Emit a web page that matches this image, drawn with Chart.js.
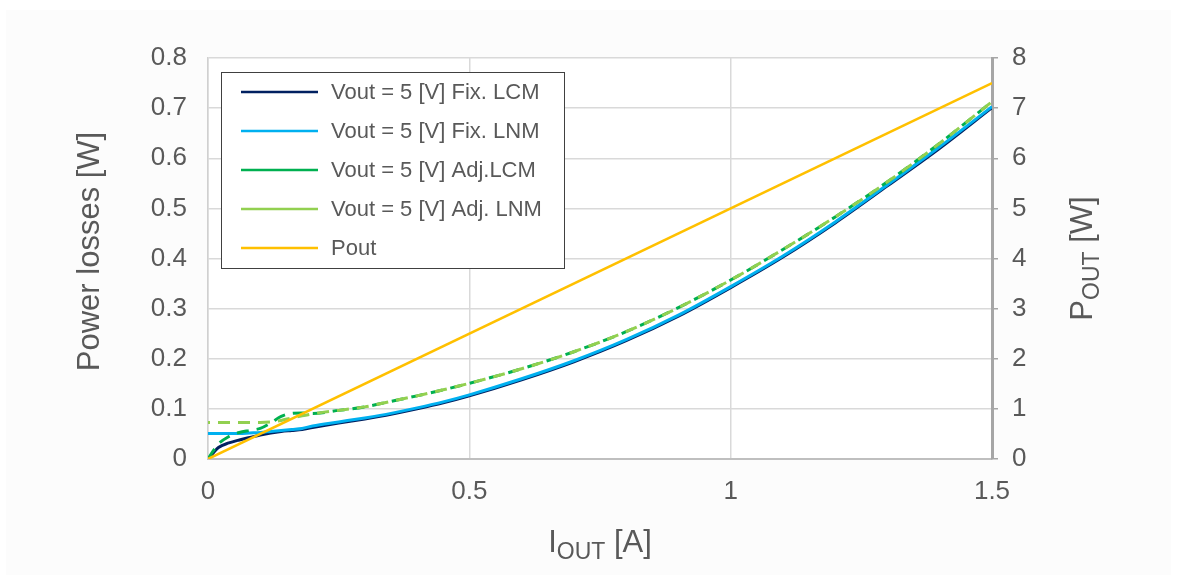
<!DOCTYPE html>
<html>
<head>
<meta charset="utf-8">
<script src="https://cdn.jsdelivr.net/npm/chart.js@4"></script>
<style>
  html, body { margin: 0; padding: 0; background: #ffffff; }
  #wrap { width: 1177px; height: 581px; position: relative; }
</style>
</head>
<body>
<div id="wrap"><canvas id="lossChart" width="1177" height="581"></canvas></div>
<script>
// Output current [A]
const current = [0, 0.01, 0.02, 0.04, 0.06, 0.08, 0.1, 0.12, 0.14, 0.16, 0.18, 0.2,
    0.25, 0.3, 0.35, 0.4, 0.45, 0.5, 0.6, 0.7, 0.8, 0.9, 1.0, 1.1, 1.2, 1.3, 1.4, 1.5];

// Power losses [W]
const fixLcm = [0, 0.012, 0.023, 0.032, 0.038, 0.043, 0.048, 0.052, 0.055, 0.057, 0.059, 0.063,
    0.072, 0.080, 0.089, 0.100, 0.112, 0.126, 0.158, 0.194, 0.236, 0.285, 0.342, 0.403, 0.471, 0.545, 0.620, 0.701];
const fixLnm = [0.051, 0.051, 0.051, 0.051, 0.051, 0.052, 0.053, 0.055, 0.057, 0.059, 0.061, 0.066,
    0.074, 0.082, 0.091, 0.102, 0.114, 0.128, 0.160, 0.196, 0.238, 0.287, 0.344, 0.405, 0.473, 0.547, 0.623, 0.703];
const adjLcm = [0, 0.016, 0.030, 0.045, 0.053, 0.057, 0.061, 0.072, 0.085, 0.091, 0.092, 0.091,
    0.097, 0.104, 0.115, 0.126, 0.138, 0.151, 0.180, 0.214, 0.254, 0.302, 0.357, 0.418, 0.483, 0.553, 0.630, 0.713];
const adjLnm = [0.073, 0.073, 0.073, 0.073, 0.073, 0.073, 0.073, 0.074, 0.077, 0.082, 0.086, 0.090,
    0.097, 0.104, 0.115, 0.126, 0.138, 0.151, 0.180, 0.214, 0.254, 0.302, 0.357, 0.418, 0.483, 0.553, 0.630, 0.713];

// Output power [W], right axis
const poutCurrent = [0, 1.5];
const pout = [0, 7.5];

const seriesNames = ['Vout = 5 [V] Fix. LCM', 'Vout = 5 [V] Fix. LNM', 'Vout = 5 [V] Adj.LCM', 'Vout = 5 [V] Adj. LNM', 'Pout'];
const xTicks = [0, 0.5, 1, 1.5];

const textColor = '#595959';
const fontFamily = '"Liberation Sans", Arial, sans-serif';

function pairs(xs, ys) {
    return xs.map((x, i) => ({ x: x, y: ys[i] }));
}

// Panel background
const backgroundPlugin = {
    id: 'panelBg',
    beforeDraw(chart) {
        const ctx = chart.ctx;
        ctx.save();
        ctx.fillStyle = '#ffffff';
        ctx.fillRect(0, 0, chart.width, chart.height);
        ctx.fillStyle = '#fcfcfc';
        ctx.fillRect(6, 10, chart.width - 12, chart.height - 16);
        const a = chart.chartArea;
        ctx.fillStyle = '#ffffff';
        ctx.fillRect(a.left, a.top, a.right - a.left, a.bottom - a.top);
        ctx.restore();
    }
};

// Axis titles with subscripts
function drawSubText(ctx, parts, cx, cy) {
    let total = 0;
    parts.forEach(p => {
        ctx.font = p.size + 'px ' + fontFamily;
        total += ctx.measureText(p.text).width;
    });
    let x = cx - total / 2;
    parts.forEach(p => {
        ctx.font = p.size + 'px ' + fontFamily;
        ctx.fillText(p.text, x, cy + (p.shift || 0));
        x += ctx.measureText(p.text).width;
    });
}

const titlesPlugin = {
    id: 'axisTitles',
    afterDraw(chart) {
        const ctx = chart.ctx;
        const a = chart.chartArea;
        const midY = (a.top + a.bottom) / 2;
        ctx.save();
        ctx.fillStyle = textColor;
        ctx.textAlign = 'left';
        ctx.textBaseline = 'alphabetic';

        // x title
        drawSubText(ctx, [
            { text: 'I', size: 31 },
            { text: 'OUT', size: 23, shift: 7 },
            { text: ' [A]', size: 31 }
        ], (a.left + a.right) / 2, 552);

        // left title
        ctx.save();
        ctx.translate(99, midY - 7);
        ctx.rotate(-Math.PI / 2);
        drawSubText(ctx, [{ text: 'Power losses [W]', size: 31 }], 0, 0);
        ctx.restore();

        // right title
        ctx.save();
        ctx.translate(1092, midY);
        ctx.rotate(-Math.PI / 2);
        drawSubText(ctx, [
            { text: 'P', size: 31 },
            { text: 'OUT', size: 23, shift: 7 },
            { text: ' [W]', size: 31 }
        ], 0, 0);
        ctx.restore();

        ctx.restore();
    }
};

// Legend box inside the plot
const legendPlugin = {
    id: 'boxLegend',
    afterDraw(chart) {
        const ctx = chart.ctx;
        const box = { x: 221, y: 72, w: 343, h: 196 };
        ctx.save();
        ctx.fillStyle = '#ffffff';
        ctx.fillRect(box.x, box.y, box.w, box.h);
        ctx.strokeStyle = '#404040';
        ctx.lineWidth = 1;
        ctx.strokeRect(box.x + 0.5, box.y + 0.5, box.w, box.h);
        ctx.font = '22px ' + fontFamily;
        ctx.textBaseline = 'middle';
        ctx.textAlign = 'left';
        chart.data.datasets.forEach((ds, i) => {
            const y = 92 + i * 39;
            ctx.strokeStyle = ds.borderColor;
            ctx.lineWidth = 2.5;
            ctx.setLineDash([]);
            ctx.beginPath();
            ctx.moveTo(241, y);
            ctx.lineTo(318, y);
            ctx.stroke();
            ctx.fillStyle = textColor;
            ctx.fillText(ds.label, 331, y + 1);
        });
        ctx.restore();
    }
};

const ctx = document.getElementById('lossChart');
new Chart(ctx, {
    type: 'line',
    data: {
        datasets: [
            {
                label: seriesNames[0],
                data: pairs(current, fixLcm),
                borderColor: '#002060',
                borderWidth: 3,
                yAxisID: 'y',
                order: 4
            },
            {
                label: seriesNames[1],
                data: pairs(current, fixLnm),
                borderColor: '#00b0f0',
                borderWidth: 3,
                yAxisID: 'y',
                order: 3
            },
            {
                label: seriesNames[2],
                data: pairs(current, adjLcm),
                borderColor: '#00b050',
                borderWidth: 3,
                borderDash: [12, 8],
                yAxisID: 'y',
                order: 2
            },
            {
                label: seriesNames[3],
                data: pairs(current, adjLnm),
                borderColor: '#92d050',
                borderWidth: 3,
                borderDash: [12, 8],
                borderDashOffset: 10,
                yAxisID: 'y',
                order: 1
            },
            {
                label: seriesNames[4],
                data: pairs(poutCurrent, pout),
                borderColor: '#ffc000',
                borderWidth: 2.5,
                yAxisID: 'y2',
                order: 0
            }
        ]
    },
    options: {
        responsive: false,
        animation: false,
        devicePixelRatio: 1,
        layout: {
            padding: { top: 58, left: 0, right: 0, bottom: 0 }
        },
        elements: {
            point: { radius: 0 },
            line: { cubicInterpolationMode: 'monotone', fill: false }
        },
        plugins: {
            legend: { display: false },
            tooltip: { enabled: false },
            title: { display: false }
        },
        scales: {
            x: {
                type: 'linear',
                min: 0,
                max: 1.5,
                afterFit: s => { s.height = 122; },
                afterBuildTicks: s => { s.ticks = xTicks.map(v => ({ value: v })); },
                grid: { color: '#d9d9d9', lineWidth: 1.5, drawTicks: false },
                border: { display: true, color: '#bfbfbf', width: 2 },
                ticks: {
                    padding: 17,
                    color: textColor,
                    font: { family: fontFamily, size: 26 },
                    maxRotation: 0,
                    callback: v => String(v)
                }
            },
            y: {
                position: 'left',
                min: 0,
                max: 0.8,
                afterFit: s => { s.width = 208; },
                grid: { color: '#d9d9d9', lineWidth: 1.5, drawTicks: false },
                border: { display: true, color: '#d0d0d0', width: 1.5 },
                ticks: {
                    stepSize: 0.1,
                    padding: 21,
                    color: textColor,
                    font: { family: fontFamily, size: 26 },
                    callback: v => (Math.round(v * 10) / 10).toString()
                }
            },
            y2: {
                position: 'right',
                min: 0,
                max: 8,
                afterFit: s => { s.width = 185; },
                grid: { drawOnChartArea: false, drawTicks: true, tickLength: 6, color: '#a6a6a6', lineWidth: 1.5 },
                border: { display: true, color: '#a6a6a6', width: 3 },
                ticks: {
                    stepSize: 1,
                    padding: 14,
                    color: textColor,
                    font: { family: fontFamily, size: 26 }
                }
            }
        }
    },
    plugins: [backgroundPlugin, titlesPlugin, legendPlugin]
});
</script>
</body>
</html>
